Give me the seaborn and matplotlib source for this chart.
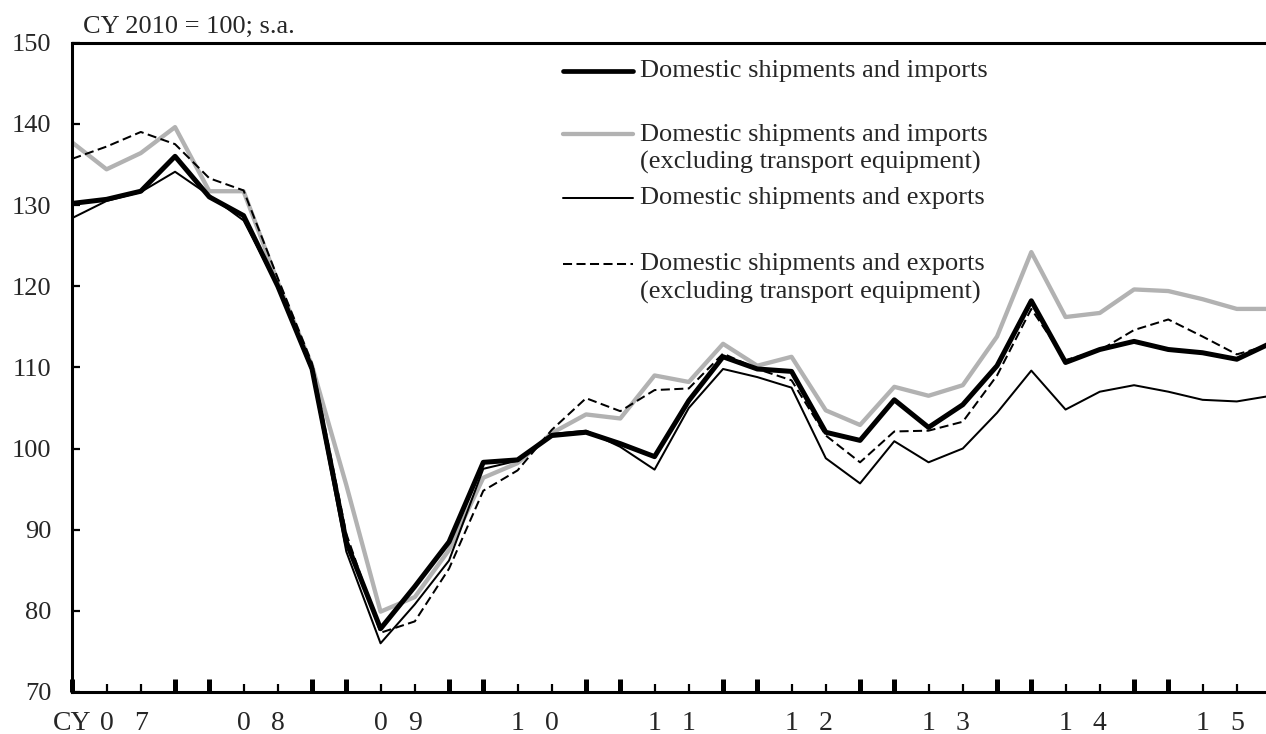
import numpy as np
import pandas as pd
import matplotlib
matplotlib.use("Agg")
import matplotlib.pyplot as plt
import seaborn as sns
from matplotlib.ticker import FixedLocator, FixedFormatter
from matplotlib.lines import Line2D

# ---------------- data (quarterly, CY2007Q1 - CY2015Q4) ----------------
quarters = [f"{y}Q{q}" for y in range(2007, 2016) for q in range(1, 5)]

imports_total = [130.2, 130.7, 131.7, 136.0, 131.0, 128.7, 120.0, 109.8, 88.5, 77.8,
                 83.0, 88.5, 98.3, 98.6, 101.6, 102.0, 100.6, 99.0, 105.9, 111.3,
                 109.8, 109.5, 102.0, 101.0, 106.0, 102.6, 105.4, 110.2, 118.2, 110.6,
                 112.2, 113.2, 112.2, 111.8, 111.0, 113.0]
imports_ex_transport = [137.7, 134.4, 136.4, 139.6, 131.7, 131.7, 120.5, 110.2, 95.5, 79.9,
                        81.7, 87.5, 96.4, 98.2, 101.9, 104.2, 103.7, 109.0, 108.2, 112.9,
                        110.2, 111.3, 104.7, 102.9, 107.6, 106.5, 107.8, 113.8, 124.2, 116.2,
                        116.7, 119.6, 119.4, 118.4, 117.2, 117.2]
exports_total = [128.4, 130.5, 131.6, 134.1, 131.2, 128.1, 120.0, 109.5, 87.3, 76.0,
                 80.8, 86.2, 97.5, 98.5, 101.8, 102.2, 100.2, 97.4, 105.0, 109.8,
                 108.8, 107.5, 98.8, 95.7, 100.9, 98.3, 100.0, 104.4, 109.6, 104.8,
                 107.0, 107.8, 107.0, 106.0, 105.8, 106.5]
exports_ex_transport = [135.7, 137.2, 139.0, 137.5, 133.3, 131.8, 121.0, 110.5, 89.5, 77.3,
                        78.7, 85.2, 94.8, 97.3, 102.3, 106.2, 104.6, 107.2, 107.4, 111.7,
                        109.8, 108.4, 101.6, 98.3, 102.1, 102.2, 103.3, 109.0, 117.2, 110.9,
                        112.1, 114.6, 115.9, 113.8, 111.6, 112.8]

years = ["07", "08", "09", "10", "11", "12", "13", "14", "15"]
series_labels = [
    "Domestic shipments and imports",
    "Domestic shipments and imports\n(excluding transport equipment)",
    "Domestic shipments and exports",
    "Domestic shipments and exports\n(excluding transport equipment)",
]
y_ticks = [70, 80, 90, 100, 110, 120, 130, 140, 150]
unit_note = "CY 2010 = 100; s.a."

# ---------------- styling ----------------
sns.set_style("white")
plt.rcParams["font.family"] = ["Liberation Serif", "DejaVu Serif"]

W, H = 1266, 734
fig = plt.figure(figsize=(W / 100, H / 100), dpi=100)
px_left, px_right, px_top, px_bot = 72.3, 1266.0, 42.7, 692.0
ax = fig.add_axes([px_left / W, 1 - px_bot / H, (px_right - px_left) / W, (px_bot - px_top) / H])

n = len(quarters)
df = pd.DataFrame({
    "q": np.arange(n),
    "A": imports_total,
    "B": imports_ex_transport,
    "C": exports_total,
    "D": exports_ex_transport,
})

GRAY = "#b2b2b2"
styles = {
    "B": dict(color=GRAY, lw=3.1, ls="-", z=2),
    "A": dict(color="black", lw=3.6, ls="-", z=3),
    "C": dict(color="black", lw=1.45, ls="-", z=4),
    "D": dict(color="black", lw=1.45, ls=(0, (4.5, 2.2)), z=5),
}
for key in ["B", "A", "C", "D"]:
    st = styles[key]
    sns.lineplot(data=df, x="q", y=key, ax=ax, color=st["color"], linewidth=st["lw"],
                 linestyle=st["ls"], zorder=st["z"], estimator=None, sort=False)

# right edge of the chart is cropped just before CY2015Q4
ax.set_xlim(0, (px_right - px_left) / 34.25)
ax.set_ylim(70, 150)
ax.set_xlabel("")
ax.set_ylabel("")

# x ticks: thick at Q1 & Q4, thin at Q2 & Q3; year digits under Q2 / Q3
major_pos = [i for i in range(n) if i % 4 in (0, 3)]
minor_pos = [i for i in range(n) if i % 4 in (1, 2)]
major_lab = ["CY" if i == 0 else "" for i in major_pos]
minor_lab = []
for i in minor_pos:
    yr = years[i // 4]
    minor_lab.append(yr[0] if i % 4 == 1 else yr[1])
ax.xaxis.set_major_locator(FixedLocator(major_pos))
ax.xaxis.set_major_formatter(FixedFormatter(major_lab))
ax.xaxis.set_minor_locator(FixedLocator(minor_pos))
ax.xaxis.set_minor_formatter(FixedFormatter(minor_lab))
ax.tick_params(axis="x", which="major", direction="in", length=9.4, width=3.6,
               pad=14, labelsize=20, bottom=True, top=False, color="black")
ax.tick_params(axis="x", which="minor", direction="in", length=6.0, width=1.6,
               pad=14, labelsize=20, bottom=True, top=False, color="black")

ax.set_yticks(y_ticks)
ax.set_yticklabels([str(v) for v in y_ticks])
ax.tick_params(axis="y", which="major", direction="in", length=6.0, width=1.6, pad=15,
               labelsize=19, left=True, right=False, color="black")

for side in ["left", "bottom", "top"]:
    ax.spines[side].set_visible(True)
    ax.spines[side].set_color("black")
    ax.spines[side].set_linewidth(2.2)
ax.spines["right"].set_visible(False)


def fx(px):
    return px / W


def fy(py):
    return 1 - py / H


# unit note
fig.text(fx(83), fy(33), unit_note, fontsize=19, ha="left", va="baseline")

# legend (manual layout to match the reference)
legend_rows = [
    ("A", 70.7, [76.8]),
    ("B", 134.3, [140.5, 169.0]),
    ("C", 198.0, [204.3]),
    ("D", 264.0, [270.3, 298.8]),
]
for (key, hy, baselines), lab in zip(legend_rows, series_labels):
    st = styles[key]
    fig.add_artist(Line2D([fx(563), fx(633)], [fy(hy), fy(hy)], transform=fig.transFigure,
                          color=st["color"], lw=st["lw"] if key != "A" else 3.4,
                          ls=st["ls"], solid_capstyle="round"))
    for line, by in zip(lab.split("\n"), baselines):
        fig.text(fx(640), fy(by), line, fontsize=19, ha="left", va="baseline")

fig.savefig("out.png", dpi=100, facecolor="white")
